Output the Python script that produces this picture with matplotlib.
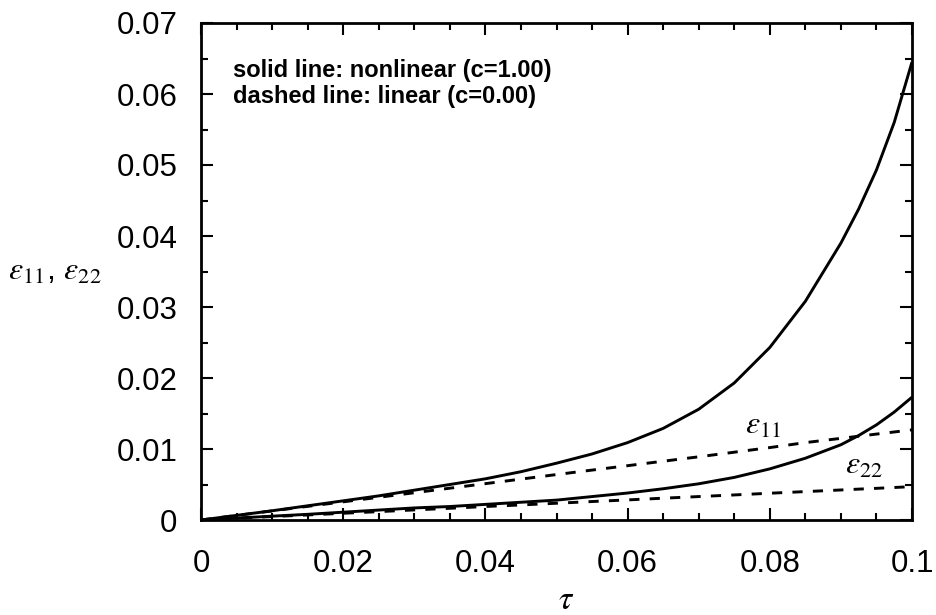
import matplotlib
matplotlib.use("Agg")
import matplotlib.pyplot as plt
from matplotlib.ticker import MultipleLocator

plt.rcParams['font.family'] = ['Liberation Sans', 'DejaVu Sans']
plt.rcParams['mathtext.fontset'] = 'stix'

tau = [0.0, 0.005, 0.01, 0.015, 0.02, 0.025, 0.03, 0.035, 0.04, 0.045, 0.05,
       0.055, 0.06, 0.065, 0.07, 0.075, 0.08, 0.085, 0.09, 0.0925, 0.095, 0.0975, 0.1]
eps11_nonlinear = [0.0, 0.00065, 0.0013, 0.002, 0.0027, 0.0034, 0.0042, 0.005, 0.0058,
                   0.0068, 0.008, 0.0093, 0.0109, 0.0129, 0.0156, 0.0193, 0.0243,
                   0.0308, 0.039, 0.0438, 0.0493, 0.0560, 0.0645]
eps22_nonlinear = [0.0, 0.00027, 0.00054, 0.0008, 0.0011, 0.0014, 0.0017, 0.0019, 0.0022,
                   0.0025, 0.0028, 0.0033, 0.0038, 0.0044, 0.0051, 0.006, 0.0072,
                   0.0087, 0.0106, 0.0119, 0.0134, 0.0152, 0.0173]
eps11_linear = [0.0, 0.00064, 0.00128, 0.00192, 0.00256, 0.0032, 0.00384, 0.00448, 0.00512,
                0.00576, 0.0064, 0.00703, 0.00765, 0.00828, 0.0089, 0.00955, 0.0102,
                0.0109, 0.0115, 0.0118, 0.0121, 0.0124, 0.0127]
eps22_linear = [0.0, 0.00024, 0.00048, 0.00071, 0.00095, 0.00118, 0.00142, 0.00165, 0.0019,
                0.00212, 0.00236, 0.0026, 0.00283, 0.00307, 0.0033, 0.00353, 0.00377,
                0.004, 0.00423, 0.00435, 0.00446, 0.00458, 0.0047]

xticks = [0, 0.02, 0.04, 0.06, 0.08, 0.1]
xtick_labels = ['0', '0.02', '0.04', '0.06', '0.08', '0.1']
yticks = [0, 0.01, 0.02, 0.03, 0.04, 0.05, 0.06, 0.07]
ytick_labels = ['0', '0.01', '0.02', '0.03', '0.04', '0.05', '0.06', '0.07']

fig = plt.figure(figsize=(9.36, 6.15), dpi=100)
ax = fig.add_axes([201/936, 1 - 520/615, (912-201)/936, (520-23)/615])

lw = 2.1
ax.plot(tau, eps11_nonlinear, color='black', lw=lw, solid_capstyle='butt')
ax.plot(tau, eps22_nonlinear, color='black', lw=lw, solid_capstyle='butt')
ax.plot(tau, eps11_linear, color='black', lw=lw, dashes=(3.5, 3.5))
ax.plot(tau, eps22_linear, color='black', lw=lw, dashes=(3.5, 3.5))

ax.set_xlim(0, 0.1)
ax.set_ylim(0, 0.07)
ax.set_xticks(xticks)
ax.set_xticklabels(xtick_labels)
ax.set_yticks(yticks)
ax.set_yticklabels(ytick_labels)
ax.xaxis.set_minor_locator(MultipleLocator(0.005))
ax.yaxis.set_minor_locator(MultipleLocator(0.005))
ax.tick_params(which='both', direction='in', top=True, right=True, width=1.5, colors='black')
ax.tick_params(which='major', length=8.5)
ax.tick_params(which='minor', length=5)
ax.tick_params(axis='x', which='major', labelsize=22.5, pad=21)
ax.tick_params(axis='y', which='major', labelsize=22.5, pad=17)
for s in ax.spines.values():
    s.set_linewidth(2.0)

ax.text(0.0045, 0.0624, 'solid line: nonlinear (c=1.00)', fontsize=17, fontweight='bold',
        ha='left', va='baseline')
ax.text(0.0045, 0.0587, 'dashed line: linear (c=0.00)', fontsize=17, fontweight='bold',
        ha='left', va='baseline')

ax.text(0.0765, 0.0122, r'$\varepsilon_{11}$', fontsize=23, ha='left', va='baseline')
ax.text(0.0906, 0.0065, r'$\varepsilon_{22}$', fontsize=23, ha='left', va='baseline')

fig.text(8/936, 1 - 272/615, r'$\varepsilon_{11}$, $\varepsilon_{22}$', fontsize=23,
         ha='left', va='center')
fig.text(566/936, 1 - 609/615, r'$\tau$', fontsize=24, ha='center', va='baseline')

fig.savefig('out.png', dpi=100)
